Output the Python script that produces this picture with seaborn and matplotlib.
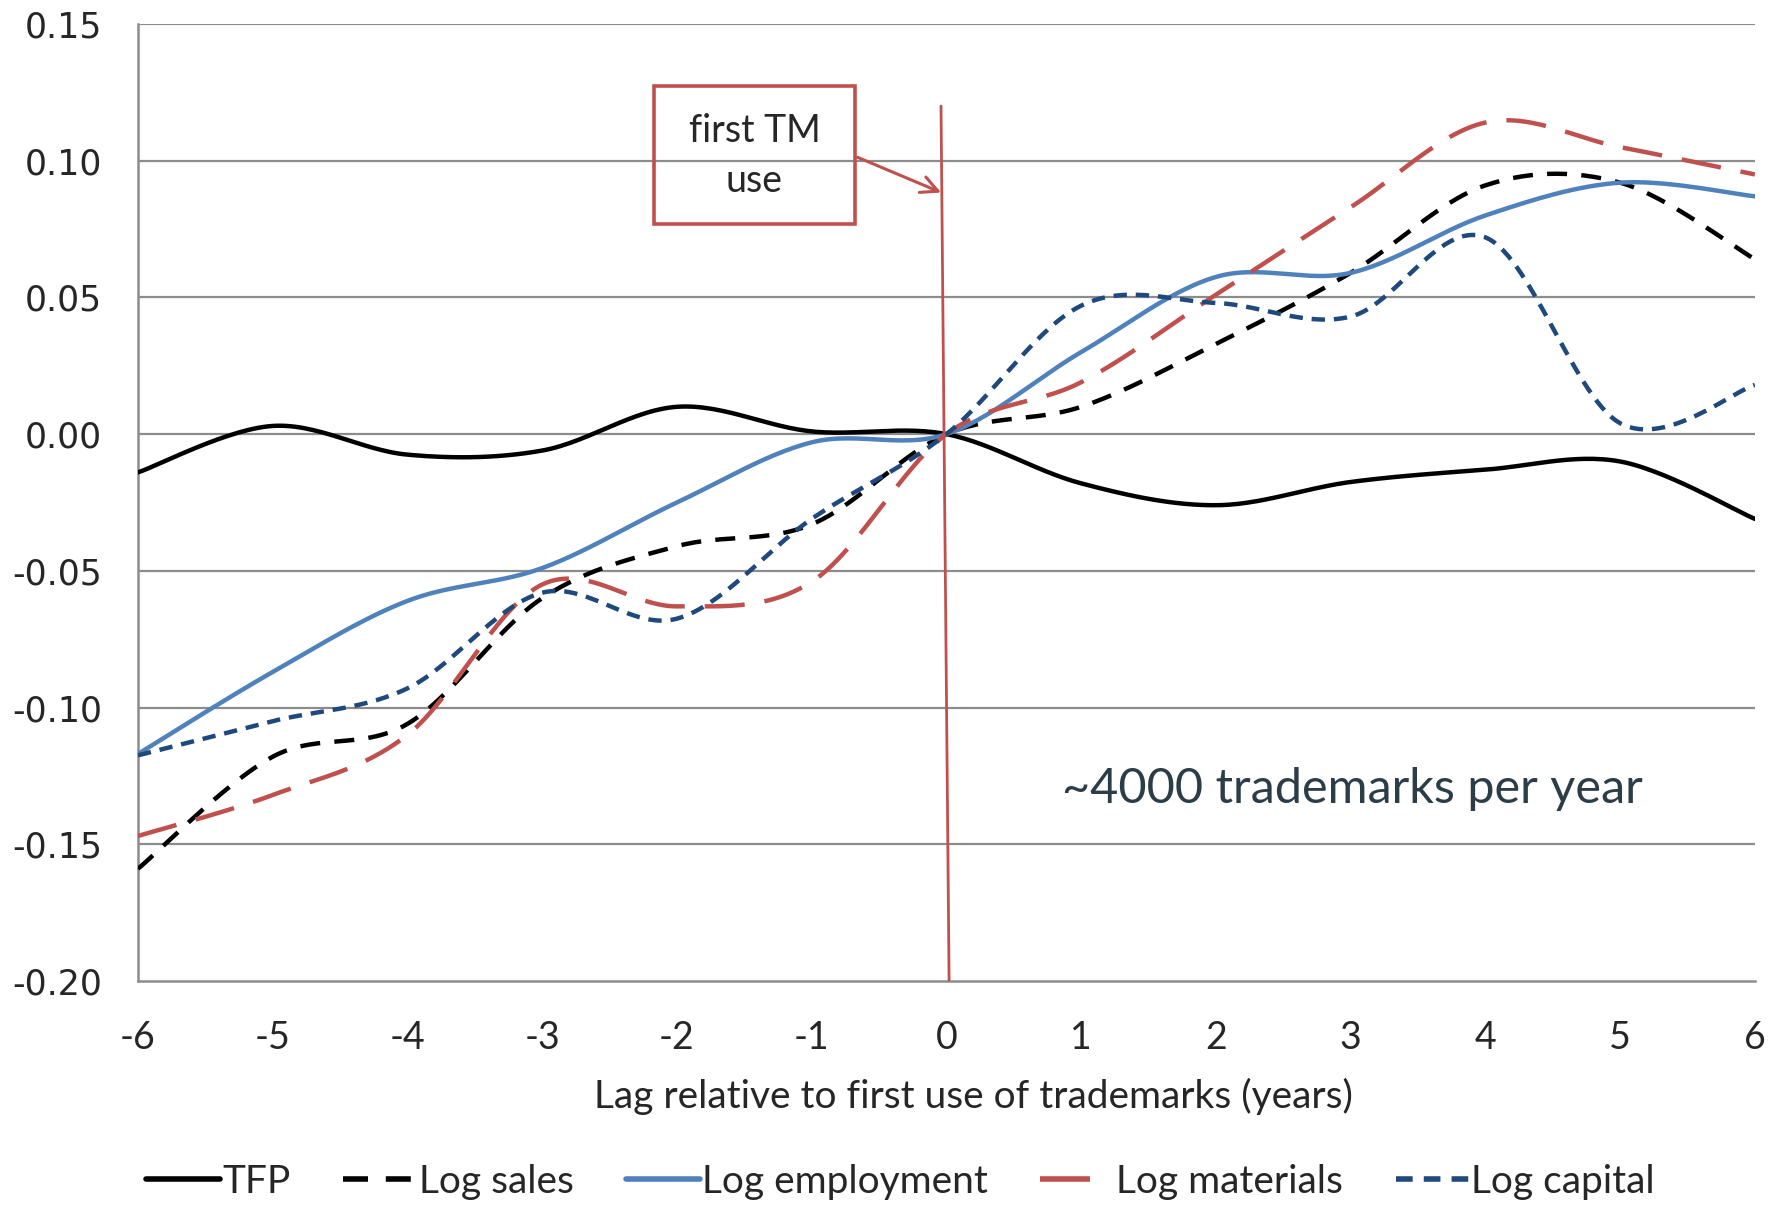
import numpy as np
import pandas as pd
import matplotlib
matplotlib.use("Agg")
import matplotlib.pyplot as plt
from matplotlib.patches import Rectangle
from matplotlib.lines import Line2D
import seaborn as sns

# Values, one per lag year
lags = [-6, -5, -4, -3, -2, -1, 0, 1, 2, 3, 4, 5, 6]
tfp = [-0.014, 0.003, -0.0075, -0.006, 0.010, 0.001, 0.0, -0.018, -0.026, -0.0175, -0.013, -0.010, -0.031]
log_sales = [-0.159, -0.118, -0.106, -0.060, -0.041, -0.033, 0.0, 0.010, 0.033, 0.059, 0.091, 0.092, 0.064]
log_employment = [-0.117, -0.087, -0.061, -0.049, -0.025, -0.003, 0.0, 0.030, 0.0575, 0.059, 0.080, 0.092, 0.087]
log_materials = [-0.147, -0.132, -0.110, -0.055, -0.063, -0.054, 0.0, 0.019, 0.051, 0.083, 0.114, 0.105, 0.095]
log_capital = [-0.1175, -0.105, -0.093, -0.058, -0.0675, -0.031, 0.0, 0.047, 0.048, 0.043, 0.072, 0.004, 0.018]
y_ticks = [-0.20, -0.15, -0.10, -0.05, 0.00, 0.05, 0.10, 0.15]

series_names = ["TFP", "Log sales", "Log employment", "Log materials", "Log capital"]
series_values = [tfp, log_sales, log_employment, log_materials, log_capital]
colors = ["#000000", "#000000", "#4F81BD", "#C0504D", "#1F497D"]
dashes = [None, (4.5, 3.2), None, (9, 4.5), (3, 2)]

LABEL_FONT = ["Lato", "DejaVu Sans"]


def smooth_curve(x, y, n=30):
    # Excel style smoothed line (Catmull-Rom through the points)
    x = np.asarray(x, float)
    y = np.asarray(y, float)
    px = np.concatenate([[x[0]], x, [x[-1]]])
    py = np.concatenate([[y[0]], y, [y[-1]]])
    xs, ys = [], []
    t = np.linspace(0, 1, n, endpoint=False)
    for i in range(1, len(px) - 2):
        for arr, out in ((px, xs), (py, ys)):
            p0, p1, p2, p3 = arr[i - 1], arr[i], arr[i + 1], arr[i + 2]
            out.extend(0.5 * ((2 * p1) + (-p0 + p2) * t
                              + (2 * p0 - 5 * p1 + 4 * p2 - p3) * t ** 2
                              + (-p0 + 3 * p1 - 3 * p2 + p3) * t ** 3))
    xs.append(x[-1])
    ys.append(y[-1])
    return np.array(xs), np.array(ys)


sns.set_style("white")
plt.rcParams['font.family'] = ["DejaVu Sans"]

fig = plt.figure(figsize=(17.87, 12.05), dpi=100)
ax = fig.add_axes([0.0772, 0.186, 0.9048, 0.794])

# gridlines
for yv in y_ticks[1:]:
    ax.axhline(yv, color="#8C8C8C", lw=1.6, zorder=0)

handles = []
for name, vals, c, d in zip(series_names, series_values, colors, dashes):
    sx, sy = smooth_curve(lags, vals)
    df = pd.DataFrame({"lag": sx, "value": sy})
    sns.lineplot(data=df, x="lag", y="value", sort=False, color=c, lw=3.2, ax=ax, zorder=3)
    line = ax.lines[-1]
    if d is not None:
        line.set_dashes(d)
    line.set_dash_capstyle("butt")
    h = Line2D([0], [0], color=c, lw=4.0)
    if d is not None:
        h.set_dashes(d)
    handles.append(h)

# first trademark use marker line
ax.plot([-0.04, 0.02], [0.12, -0.20], color="#C0504D", lw=2.0, zorder=4)

# annotation box
ax.add_patch(Rectangle((-2.17, 0.077), 1.49, 0.0505, fill=False, edgecolor="#C0504D", lw=2.6, zorder=5))
ax.text(-1.425, 0.1017, "first TM\nuse", ha="center", va="center", fontsize=27,
        family=LABEL_FONT, linespacing=1.5, zorder=6)
ax.annotate("", xy=(-0.02, 0.088), xytext=(-0.68, 0.1017),
            arrowprops=dict(arrowstyle="->", color="#C0504D", lw=2.2, mutation_scale=30), zorder=5)

ax.text(3.01, -0.1297, "~4000 trademarks per year", ha="center", va="center",
        fontsize=35, color="#2B3E48", family=LABEL_FONT)

ax.set_xlim(-6, 6)
ax.set_ylim(-0.20, 0.15)
ax.set_xticks(lags)
ax.set_xticklabels([str(v) for v in lags], family=LABEL_FONT, fontsize=27)
ax.set_yticks(y_ticks)
ax.set_yticklabels([f"{v:.2f}" for v in y_ticks], fontsize=25)
ax.tick_params(axis="both", direction="out", length=10, width=1.6, color="#8C8C8C")
ax.tick_params(axis="y", pad=16)
ax.tick_params(axis="x", pad=18)
ax.set_xlabel("")
ax.set_ylabel("")

for s in ["top", "right"]:
    ax.spines[s].set_visible(False)
for s in ["left", "bottom"]:
    ax.spines[s].set_color("#8C8C8C")
    ax.spines[s].set_linewidth(1.8)

fig.text(0.545, 0.090, "Lag relative to first use of trademarks (years)", ha="center", va="center",
         fontsize=28, family=LABEL_FONT)

fig.legend(handles, series_names, loc="center", bbox_to_anchor=(0.504, 0.019), ncol=5,
           frameon=False, prop={"family": LABEL_FONT, "size": 28},
           handlelength=1.9, handletextpad=0.05, columnspacing=1.35)

fig.savefig("out.png", dpi=100)
